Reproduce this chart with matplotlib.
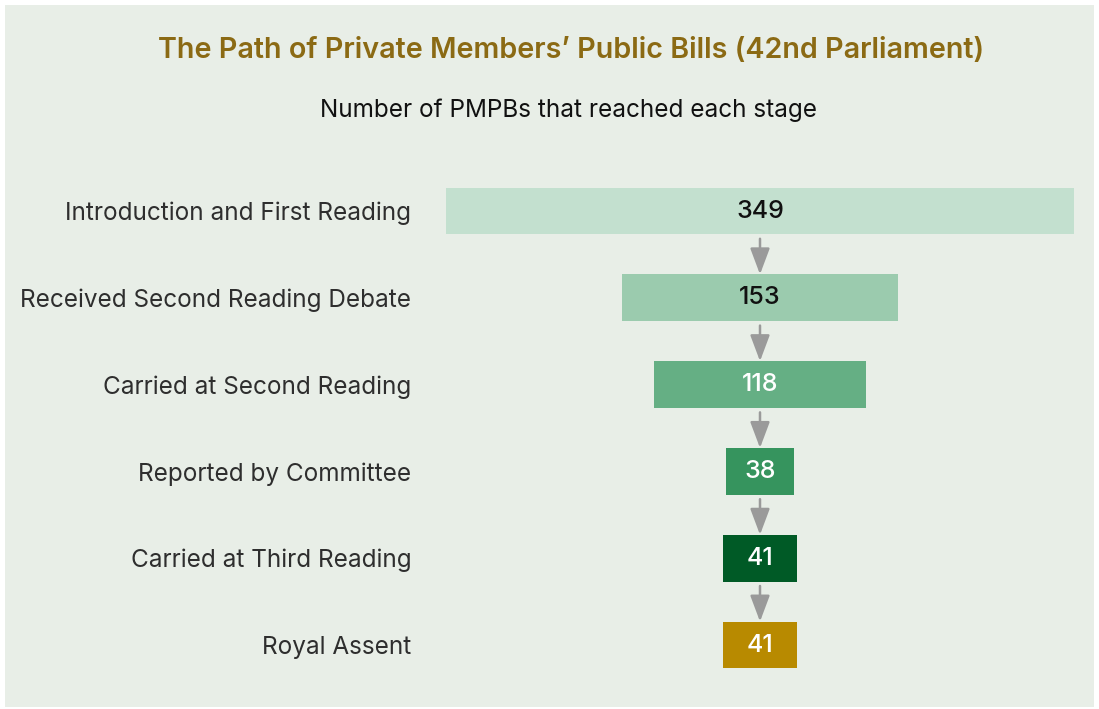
import matplotlib.pyplot as plt
from matplotlib.patches import Rectangle

plt.rcParams['font.family'] = ['Inter', 'DejaVu Sans']

stages = [
    "Introduction and First Reading",
    "Received Second Reading Debate",
    "Carried at Second Reading",
    "Reported by Committee",
    "Carried at Third Reading",
    "Royal Assent",
]
counts = [349, 153, 118, 38, 41, 41]
bar_colors = ["#C3E0CF", "#9BCBAE", "#65AF84", "#36945E", "#005A26", "#B88A00"]
value_colors = ["#111111", "#111111", "white", "white", "white", "white"]

W, H = 1099, 709
fig = plt.figure(figsize=(W / 100, H / 100), dpi=100, facecolor="white")

# light panel behind everything
fig.patches.append(Rectangle((5 / W, 0.003), 1089 / W, 1 - 5 / H - 0.003,
                             transform=fig.transFigure, facecolor="#E8EEE7",
                             edgecolor="none", zorder=-10))

fig.text(571 / W, 1 - 51 / H, "The Path of Private Members\u2019 Public Bills (42nd Parliament)",
         ha="center", va="center", fontsize=20.7, color="#8B6A14", fontweight="semibold")
fig.text(569 / W, 1 - 110 / H, "Number of PMPBs that reached each stage",
         ha="center", va="center", fontsize=17.5, color="#111111")

row_px = 86.8
top_px = 211 - row_px / 2
bot_px = 645 + row_px / 2
ax = fig.add_axes([446 / W, 1 - bot_px / H, 628 / W, (bot_px - top_px) / H])
ax.set_facecolor("none")
ax.set_zorder(1)

y = list(range(len(stages)))
bar_h = 0.54
lefts = [-c / 2 for c in counts]
ax.barh(y, counts, left=lefts, height=bar_h, color=bar_colors, edgecolor="none")

ax.set_xlim(-max(counts) / 2, max(counts) / 2)
ax.set_ylim(len(stages) - 0.5, -0.5)

for i, c in enumerate(counts):
    ax.text(0, i, str(c), ha="center", va="center", fontsize=18,
            color=value_colors[i], fontweight="medium")

# arrows between consecutive stages
for i in range(len(stages) - 1):
    ax.annotate("", xy=(0, i + 1 - bar_h / 2), xytext=(0, i + bar_h / 2 + 0.05),
                arrowprops=dict(arrowstyle="-|>,head_length=0.8,head_width=0.3",
                                mutation_scale=20, color="#9A9A9A", lw=1.8,
                                shrinkA=0, shrinkB=0))

ax.set_yticks(y)
ax.set_yticklabels(stages, fontsize=17.5, color="#2E2E2E")
ax.tick_params(axis="y", length=0, pad=25)
ax.set_xticks([])
for s in ax.spines.values():
    s.set_visible(False)

fig.savefig("out.png", dpi=100, facecolor="white")
